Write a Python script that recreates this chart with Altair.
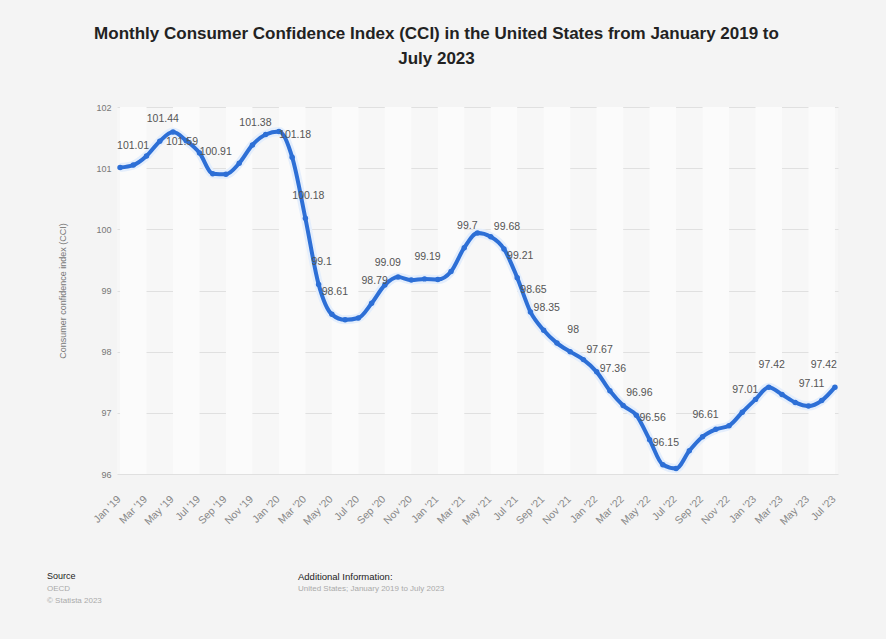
import altair as alt
import pandas as pd

month_abbr = ["Jan", "Feb", "Mar", "Apr", "May", "Jun", "Jul", "Aug", "Sep", "Oct", "Nov", "Dec"]
years = ["19", "20", "21", "22", "23"]
months = [f"{m} '{y}" for y in years for m in month_abbr][:55]  # Jan '19 .. Jul '23

values = [101.01, 101.05, 101.20, 101.44, 101.59, 101.45, 101.25, 100.91, 100.90, 101.08,
          101.38, 101.55, 101.60, 101.18, 100.18, 99.10, 98.61, 98.52, 98.55, 98.79,
          99.09, 99.22, 99.17, 99.19, 99.18, 99.31, 99.70, 99.94, 99.88, 99.68,
          99.21, 98.65, 98.35, 98.14, 98.00, 97.87, 97.67, 97.36, 97.12, 96.96,
          96.56, 96.15, 96.09, 96.38, 96.61, 96.73, 96.79, 97.01, 97.22, 97.42,
          97.30, 97.17, 97.11, 97.20, 97.42]

labeled = [0, 3, 4, 7, 10, 13, 14, 15, 16, 19, 20, 23, 26, 29, 30, 31, 32, 34, 36, 37,
           39, 40, 41, 44, 47, 49, 52, 54]

title_lines = ["Monthly Consumer Confidence Index (CCI) in the United States from January 2019 to",
               "July 2023"]
y_title = "Consumer confidence index (CCI)"
y_ticks = [96, 97, 98, 99, 100, 101, 102]
source_head = "Source"
source_lines = ["OECD", "© Statista 2023"]
info_head = "Additional Information:"
info_lines = ["United States; January 2019 to July 2023"]

n = len(values)
last = n - 1


def label_group(i, v):
    if i not in labeled:
        return "none"
    if i == 0:
        return "first"
    if i == last:
        return "last"
    if v > 101.5:
        return "below"
    return "above"


df = pd.DataFrame({
    "idx": list(range(n)),
    "month": months,
    "value": values,
    "label": [f"{v:g}" for v in values],
    "grp": [label_group(i, v) for i, v in enumerate(values)],
    "tick": [i % 2 == 0 for i in range(n)],
})

bands = pd.DataFrame({"start": [i - 1 for i in range(1, n, 4)],
                      "end": [i + 1 for i in range(1, n, 4)]})

W, H = 721, 367
FONT = "Liberation Sans"
BLUE = "#2d6fd6"

xscale = alt.Scale(domain=[-0.23, last + 0.23], nice=False, zero=False)
yscale = alt.Scale(domain=[96, 102], nice=False, zero=False)

yaxis = alt.Axis(values=y_ticks, format="d", labelFontSize=9, labelColor="#777777",
                 labelFont=FONT, labelPadding=6, grid=True, gridColor="#e0e0e0", gridWidth=1,
                 ticks=False, domain=False, title=y_title, titleFontSize=9,
                 titleFontWeight="normal", titleColor="#777777", titleFont=FONT,
                 titlePadding=28)

base = alt.Chart(df)

band_layer = alt.Chart(bands).mark_rect(color="#fbfbfb").encode(
    x=alt.X("start:Q", scale=xscale, axis=None),
    x2="end:Q",
    y=alt.value(0), y2=alt.value(H),
)

halo = base.mark_line(color="#e4eefc", strokeWidth=9, interpolate="monotone").encode(
    x=alt.X("idx:Q", scale=xscale),
    y=alt.Y("value:Q", scale=yscale, axis=yaxis),
)
line = base.mark_line(color=BLUE, strokeWidth=4, interpolate="monotone").encode(
    x=alt.X("idx:Q", scale=xscale),
    y=alt.Y("value:Q", scale=yscale),
)
points = base.mark_circle(color=BLUE, size=30, opacity=1).encode(
    x=alt.X("idx:Q", scale=xscale),
    y=alt.Y("value:Q", scale=yscale),
)

# month labels along the bottom, one every two months, rotated 45 degrees
xlabels = base.transform_filter(alt.datum.tick).mark_text(
    font=FONT, fontSize=10.5, color="#888888", angle=315, align="right", baseline="middle",
    dx=-1,
).encode(
    x=alt.X("idx:Q", scale=xscale),
    y=alt.value(H + 23),
    text="month:N",
)


def labels(grp, dx, dy, align):
    return base.transform_filter(alt.datum.grp == grp).mark_text(
        font=FONT, fontSize=10.5, color="#555555", dx=dx, dy=dy, align=align, baseline="middle"
    ).encode(
        x=alt.X("idx:Q", scale=xscale),
        y=alt.Y("value:Q", scale=yscale),
        text="label:N",
    )


lab_above = labels("above", 3, -22, "center")
lab_below = labels("below", 9, 10, "center")
lab_first = labels("first", -3, -22, "left")
lab_last = labels("last", 2, -22, "right")


def footer(lines, x, y, color, weight, size):
    return alt.Chart(pd.DataFrame({"t": [0]})).mark_text(
        text=lines if len(lines) > 1 else lines[0], font=FONT, fontSize=size, color=color,
        fontWeight=weight, align="left", baseline="top", lineHeight=12,
    ).encode(x=alt.value(x), y=alt.value(y))


f1 = footer([source_head], -70, 465, "#222222", "normal", 9)
f2 = footer(source_lines, -70, 478, "#aaaaaa", "normal", 8)
f3 = footer([info_head], 181, 465, "#222222", "normal", 9.5)
f4 = footer(info_lines, 181, 478, "#aaaaaa", "normal", 8)

chart = alt.layer(
    band_layer, halo, line, points, xlabels, lab_above, lab_below, lab_first, lab_last,
    f1, f2, f3, f4
).properties(
    width=W, height=H,
    title=alt.TitleParams(text=title_lines, fontSize=17, fontWeight="bold", font=FONT,
                          color="#222222", anchor="middle", dx=-41, offset=35, lineHeight=25),
    autosize=alt.AutoSizeParams(type="none"),
    padding={"left": 117, "top": 107, "right": 48, "bottom": 165},
    background="#f4f4f4",
).configure_view(stroke=None, fill="#f7f7f7")

chart.save("out.html", embed_options={"renderer": "svg", "actions": False})
